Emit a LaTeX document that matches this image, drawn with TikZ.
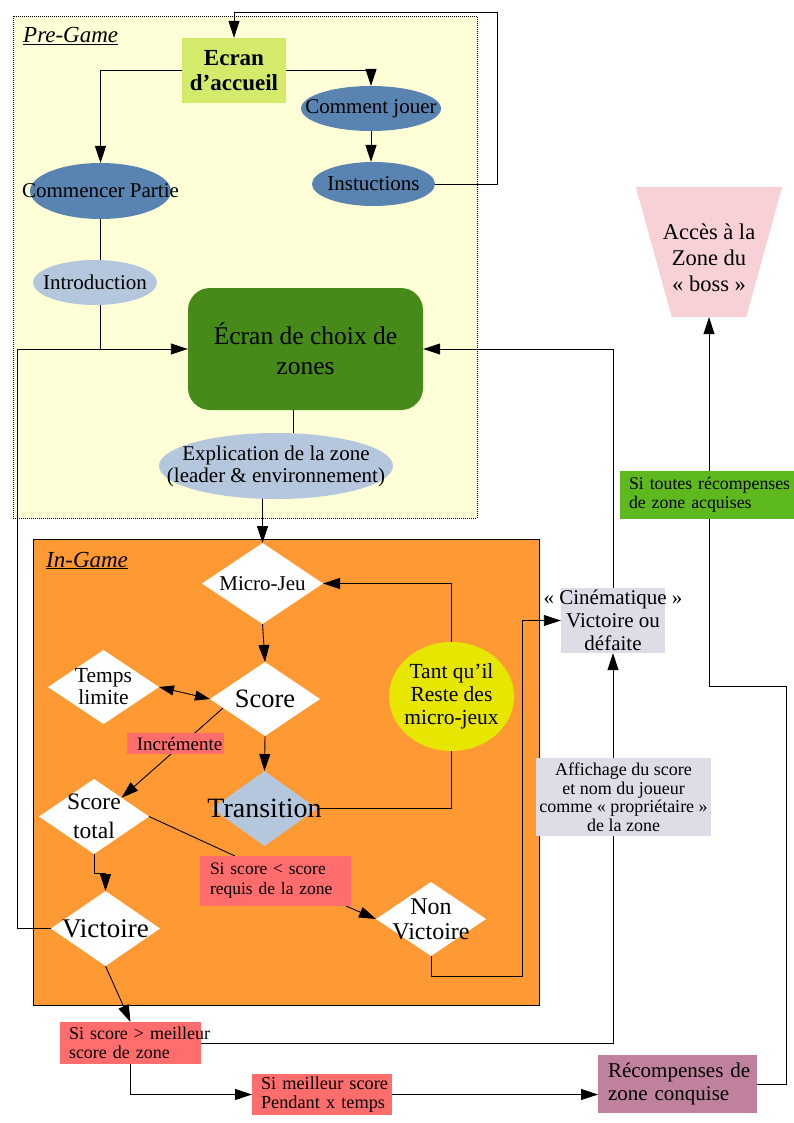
\documentclass[tikz,border=0pt]{standalone}
\usepackage{fontspec}
\setmainfont{Liberation Serif}
\usetikzlibrary{shapes.geometric, arrows.meta, calc}
\pgfdeclarelayer{bg}
\pgfdeclarelayer{edges}
\pgfsetlayers{bg,edges,main}
\definecolor{preyel}{HTML}{FFFFD7}
\definecolor{accgreen}{HTML}{D4EA6B}
\definecolor{darkell}{HTML}{5983B0}
\definecolor{lightell}{HTML}{B4C7DC}
\definecolor{choixgreen}{HTML}{468A1A}
\definecolor{orangeing}{HTML}{FF9933}
\definecolor{yellowc}{HTML}{E6E600}
\definecolor{salmon}{HTML}{FF6D6D}
\definecolor{lavend}{HTML}{DDDDE8}
\definecolor{greenlbl}{HTML}{5EB91E}
\definecolor{bosspink}{HTML}{F7D1D5}
\definecolor{mauve}{HTML}{BF819E}
\newcommand{\fsz}[2]{\fontsize{#1pt}{#2pt}\selectfont}
\newcommand{\nb}[1]{\mbox{#1}}
\begin{document}
\begin{tikzpicture}[x=1pt,y=-1pt,
  conn/.style={line width=0.9pt, draw=black},
  arr/.style={conn, -{Triangle[length=17pt,width=11pt]}},
  arrboth/.style={conn, {Triangle[length=15pt,width=10pt]}-{Triangle[length=15pt,width=10pt]}},
  ell/.style={ellipse, inner sep=0pt, outer sep=0pt, fill=#1},
  dia/.style={diamond, inner sep=0pt, outer sep=0pt, fill=#1},
  tbox/.style={rectangle, inner ysep=0pt, outer sep=0pt, fill=#1, align=left},
]
\useasboundingbox (0,0) rectangle (794,1123);

% containers
\begin{pgfonlayer}{bg}
\node[draw, line width=0.6pt, dash pattern=on 1pt off 1pt, fill=preyel, inner sep=0pt,
      minimum width=464pt, minimum height=502pt, anchor=north west] (pre) at (13,16) {};
\node[draw, line width=0.8pt, fill=orangeing, inner sep=0pt,
      minimum width=506pt, minimum height=466pt, anchor=north west] (ing) at (33,539) {};
\end{pgfonlayer}

\node[anchor=base west, inner sep=0pt, font=\itshape\fsz{23}{26}] (pretitle) at (23,43) {\underline{Pre-Game}};
\node[anchor=base west, inner sep=0pt, font=\itshape\fsz{23}{26}] (ingtitle) at (46,567) {\underline{In-Game}};

% pre-game nodes
\node[rectangle, fill=accgreen, minimum width=104pt, minimum height=65pt, inner sep=0pt,
      align=center, font=\bfseries\fsz{23}{25}] (ecran) at (234,70.5) {Ecran\\d’accueil};
\node[ell=darkell, minimum width=140pt, minimum height=45pt,
      label={[font=\fsz{21}{24}]center:Comment jouer}] (comment) at (371,108.5) {};
\node[ell=darkell, minimum width=123pt, minimum height=44pt,
      label={[font=\fsz{21}{24}]center:Instuctions}] (instr) at (373.5,184) {};
\node[ell=darkell, minimum width=141pt, minimum height=56pt,
      label={[font=\fsz{21}{24}]center:Commencer Partie}] (commencer) at (100.5,191) {};
\node[ell=lightell, minimum width=124pt, minimum height=45pt,
      label={[font=\fsz{21}{24}]center:Introduction}] (intro) at (95,282.5) {};
\node[rectangle, rounded corners=22pt, fill=choixgreen, minimum width=235pt, minimum height=122pt,
      inner sep=0pt, align=center, font=\fsz{25.5}{30}] (choix) at (305.5,349) {Écran de choix de\\zones};
\node[ell=lightell, minimum width=234pt, minimum height=66pt,
      label={[font=\fsz{21}{22}, align=center]center:Explication de la zone\\(leader \& environnement)}] (expl) at (276,466) {};

% in-game nodes
\node[dia=white, minimum width=121pt, minimum height=81pt,
      label={[font=\fsz{21}{24}]center:Micro-Jeu}] (microjeu) at (262.5,583.5) {};
\node[dia=white, minimum width=110pt, minimum height=74pt,
      label={[font=\fsz{26.5}{28}]center:Score}] (score) at (265,699) {};
\node[dia=white, minimum width=111pt, minimum height=74pt,
      label={[font=\fsz{21.5}{22}, align=center]center:Temps\\limite}] (temps) at (103.5,687) {};
\node[ell=yellowc, minimum width=125pt, minimum height=109pt,
      label={[font=\fsz{21.5}{23}, align=center]center:Tant qu’il\\Reste des\\micro-jeux}] (tant) at (451.5,696.5) {};
\node[dia=lightell, minimum width=105pt, minimum height=75pt,
      label={[font=\fsz{28}{30}]center:Transition}] (transition) at (264.5,808.5) {};
\node[dia=white, minimum width=110pt, minimum height=75pt,
      label={[font=\fsz{23.5}{29}, align=center]center:Score\\total}] (stotal) at (94,816.5) {};
\node[rectangle, fill=salmon, minimum width=97pt, minimum height=21pt, inner sep=0pt,
      font=\fsz{19}{20}] (incr) at (175.5,743.5) {\hspace*{8pt}Incrémente};
\node[dia=white, minimum width=109pt, minimum height=75pt,
      label={[font=\fsz{27}{28}]center:Victoire}] (victoire) at (105.5,928.5) {};
\node[tbox=salmon, text width=131pt, inner xsep=10pt, minimum height=50pt,
      font=\fsz{17.5}{20}] (siinf) at (275.5,881) {\nb{Si score < score}\\\nb{requis de la zone}};
\node[dia=white, minimum width=110pt, minimum height=74pt,
      label={[font=\fsz{24}{25}, align=center]center:Non\\Victoire}] (nonvic) at (431,919) {};

% outside nodes
\node[tbox=salmon, text width=123pt, inner xsep=9pt, minimum height=42pt,
      font=\fsz{18}{19}] (simax) at (130.5,1043) {\nb{Si score > meilleur}\\\nb{score de zone}};
\node[tbox=salmon, text width=122pt, inner xsep=9pt, minimum height=41pt,
      font=\fsz{18.3}{19}] (simeil) at (322,1094.5) {\nb{Si meilleur score}\\\nb{Pendant x temps}};
\node[tbox=mauve, text width=139pt, inner xsep=10pt, minimum height=58pt,
      font=\fsz{21}{23}] (recomp) at (677.5,1084) {\nb{Récompenses de}\\\nb{zone conquise}};
\node[rectangle, minimum width=146pt, minimum height=130pt, inner sep=0pt,
      label={[font=\fsz{22.5}{26}, align=center, yshift=-6pt]center:Accès à la\\Zone du\\«~boss~»}] (acces) at (709,252) {};
\begin{pgfonlayer}{bg}
\fill[bosspink] (acces.north west) -- (acces.north east) -- ([xshift=-36pt]acces.south east)
  -- ([xshift=36pt]acces.south west) -- cycle;
\end{pgfonlayer}
\node[tbox=greenlbl, text width=156pt, inner xsep=9pt, minimum height=48pt,
      font=\fsz{17.8}{19}] (sitoutes) at (707,495) {\nb{Si toutes récompenses}\\\nb{de zone acquises}};
\node[rectangle, fill=lavend, minimum width=104pt, minimum height=65pt, inner sep=0pt,
      label={[font=\fsz{21}{23}, align=center]center:«~Cinématique~»\\Victoire ou\\défaite}] (cine) at (613,620.5) {};
\node[rectangle, fill=lavend, minimum width=175pt, minimum height=78pt, inner sep=0pt, align=center,
      font=\fsz{18}{18.5}] (affich) at (623.5,797) {Affichage du score\\et nom du joueur\\comme «~propriétaire~»\\de la zone};

\coordinate (loopA) at (497,12);
\coordinate (loopL) at (17,349);
\coordinate (nvB) at (522,976);
\coordinate (rA) at (786,686);

\begin{pgfonlayer}{edges}
\draw[arr] (ecran.west) -| (commencer.north);
\draw[arr] (ecran.east) -| (comment.north);
\draw[arr] (comment.south) -- (comment.south |- instr.north);
\draw[arr] (instr.east) -| (loopA) -| (ecran.north);
\draw[conn] (commencer.south) -- (commencer.south |- intro.north);
\draw[conn] (commencer.south |- intro.south) -- (commencer.south |- choix.west);
\draw[arr] (victoire.west) -| (loopL) -- (choix.west);
\draw[arr] (cine.north) |- (choix.east);
\draw[conn] ([xshift=-12.5pt]choix.south) -- ([xshift=-12.5pt]choix.south |- expl.north);
\draw[arr] (microjeu.north |- expl.south) -- (microjeu.north);
\draw[arr] (microjeu.south) -- (score.north);
\draw[arrboth] (temps.east) -- (score.west);
\draw[arr] (score.south) -- (transition.north);
\draw[conn] (transition.east) -| (tant.south);
\draw[arr] (tant.north) |- (microjeu.east);
\draw[arr] (score.192) -- (stotal.north east);
\draw[conn] (stotal.east) -- ([xshift=-40.5pt]siinf.north);
\draw[arr] ([xshift=-5pt]siinf.south east) -- (nonvic.west);
\draw[arr] (stotal.south) -- ++(0,19) -| (victoire.north);
\draw[arr] (victoire.south) -- (simax.north);
\draw[arr] (nonvic.south) |- (nvB) |- (cine.west);
\draw[conn] (simax.east) -| (cine.south |- affich.south);
\draw[arr] (cine.south |- affich.north) -- (cine.south);
\draw[arr] (simax.south) |- (simeil.west);
\draw[arr] (simeil.east) -- (simeil.east -| recomp.west);
\draw[arr] (recomp.east) -| (rA) -| (acces.south);
\end{pgfonlayer}
\end{tikzpicture}
\end{document}
